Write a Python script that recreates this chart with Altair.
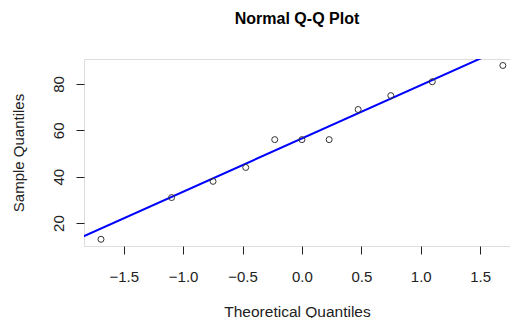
import altair as alt
import pandas as pd

# Theoretical quantiles (x) and sample quantiles (y)
theoretical = [-1.691, -1.097, -0.748, -0.473, -0.229, 0.0, 0.229, 0.473, 0.748, 1.097, 1.691]
sample = [13, 31, 38, 44, 56, 56, 56, 69, 75, 81, 88]

# Reference (qq) line through the quartiles
line_intercept = 56.5
line_slope = 22.98
line_x = [-2.5, 2.5]

x_ticks = [-1.5, -1.0, -0.5, 0.0, 0.5, 1.0, 1.5]
y_ticks = [20, 40, 60, 80]

x_domain = [-1.834, 1.751]
y_domain = [10.1, 90.8]

pts = pd.DataFrame({"x": theoretical, "y": sample})
ln = pd.DataFrame({"x": line_x, "y": [line_intercept + line_slope * v for v in line_x]})

FONT = "Liberation Sans"
W, H = 426, 187

xscale = alt.Scale(domain=x_domain, nice=False, zero=False)
yscale = alt.Scale(domain=y_domain, nice=False, zero=False)

xaxis = alt.Axis(
    title="Theoretical Quantiles", values=x_ticks, format=".1f",
    domain=False, grid=False, tickSize=8, tickColor="#222", tickWidth=1,
    labelFont=FONT, labelFontSize=15, labelColor="#222",
    labelBaseline="alphabetic", labelPadding=27, labelFlush=False,
    titleFont=FONT, titleFontSize=15.5, titleFontWeight="normal", titleColor="#222",
    titleBaseline="alphabetic", titleY=70, titleX=W / 2, titleAnchor="middle",
)
yaxis = alt.Axis(
    title="Sample Quantiles", values=y_ticks, format="d",
    domain=False, grid=False, tickSize=8, tickColor="#222", tickWidth=1,
    labelFont=FONT, labelFontSize=15, labelColor="#222",
    labelAngle=270, labelAlign="center", labelBaseline="alphabetic",
    labelPadding=13, labelFlush=False,
    titleFont=FONT, titleFontSize=15, titleFontWeight="normal", titleColor="#222",
    titleAngle=270, titleAlign="center", titleBaseline="middle",
    titleX=-66, titleY=H / 2,
)

points = alt.Chart(pts).mark_point(
    shape="circle", filled=False, size=36, stroke="#333", strokeWidth=1, opacity=1
).encode(
    x=alt.X("x:Q", scale=xscale, axis=xaxis),
    y=alt.Y("y:Q", scale=yscale, axis=yaxis),
)

qqline = alt.Chart(ln).mark_line(color="#0000FF", strokeWidth=2, clip=True).encode(
    x=alt.X("x:Q", scale=xscale),
    y=alt.Y("y:Q", scale=yscale),
)

chart = alt.layer(qqline, points).properties(
    width=W, height=H,
    title=alt.TitleParams(
        "Normal Q-Q Plot", font=FONT, fontSize=16, fontWeight="bold", color="black",
        anchor="middle", baseline="alphabetic", offset=19,
    ),
    autosize=alt.AutoSizeParams(type="none"),
    padding={"left": 76, "top": 51, "right": 0, "bottom": 72},
).configure_view(
    stroke="black", strokeWidth=1
).configure(background="white")

chart.save("out.html", embed_options={"renderer": "svg", "actions": False})
